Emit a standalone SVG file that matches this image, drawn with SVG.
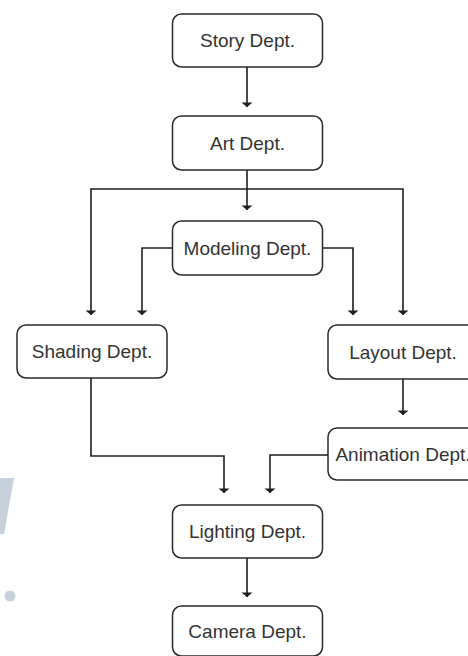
<svg xmlns="http://www.w3.org/2000/svg" width="468" height="656" viewBox="0 0 468 656">
<style>
.box{fill:#fff;stroke:#2a2a2a;stroke-width:1.5}
.lbl{font-family:"Liberation Sans",Arial,sans-serif;font-size:19px;fill:#333;text-anchor:middle}
.wire{fill:none;stroke:#1e1e1e;stroke-width:1.6;marker-end:url(#ah)}
.wm{fill:#c6d1dc}
</style>
<defs>
<marker id="ah" viewBox="-6 -6 7 12" markerWidth="7" markerHeight="12" refX="0" refY="0" orient="auto" markerUnits="userSpaceOnUse">
<path d="M-4.5,-5.5 L0,0 L-4.5,5.5 Z" fill="#1e1e1e"/>
</marker>
</defs>
<rect width="468" height="656" fill="#fff"/>
<g id="watermark">
<polygon class="wm" points="0,478 14,478 4,534 0,534"/>
<circle class="wm" cx="10" cy="596" r="5.5"/>
</g>
<g id="connectors">
<path class="wire" d="M247,67 V107"/>
<path class="wire" d="M247,170 V210"/>
<path class="wire" d="M247,189 H91 V315"/>
<path class="wire" d="M247,189 H403 V315"/>
<path class="wire" d="M172,248 H142 V315"/>
<path class="wire" d="M323,248 H353 V315"/>
<path class="wire" d="M403,379 V415"/>
<path class="wire" d="M91,378 V456 H224 V493"/>
<path class="wire" d="M328,455 H270 V493"/>
<path class="wire" d="M247,558 V597"/>
</g>
<g id="story"><rect class="box" x="172.5" y="14" width="150" height="53" rx="9"/><text class="lbl" x="247.5" y="47">Story Dept.</text></g>
<g id="art"><rect class="box" x="172.5" y="116" width="150" height="54" rx="9"/><text class="lbl" x="247.5" y="150">Art Dept.</text></g>
<g id="modeling"><rect class="box" x="172.5" y="221" width="150" height="54" rx="9"/><text class="lbl" x="247.5" y="255">Modeling Dept.</text></g>
<g id="shading"><rect class="box" x="17" y="325" width="150" height="53" rx="9"/><text class="lbl" x="92" y="358">Shading Dept.</text></g>
<g id="layout"><rect class="box" x="328" y="325" width="150" height="54" rx="9"/><text class="lbl" x="403" y="359">Layout Dept.</text></g>
<g id="animation"><rect class="box" x="328" y="428" width="150" height="52" rx="9"/><text class="lbl" x="403" y="461">Animation Dept.</text></g>
<g id="lighting"><rect class="box" x="172.5" y="505" width="150" height="53" rx="9"/><text class="lbl" x="247.5" y="538">Lighting Dept.</text></g>
<g id="camera"><rect class="box" x="172.5" y="606" width="150" height="50" rx="9"/><text class="lbl" x="247.5" y="638">Camera Dept.</text></g>
</svg>
